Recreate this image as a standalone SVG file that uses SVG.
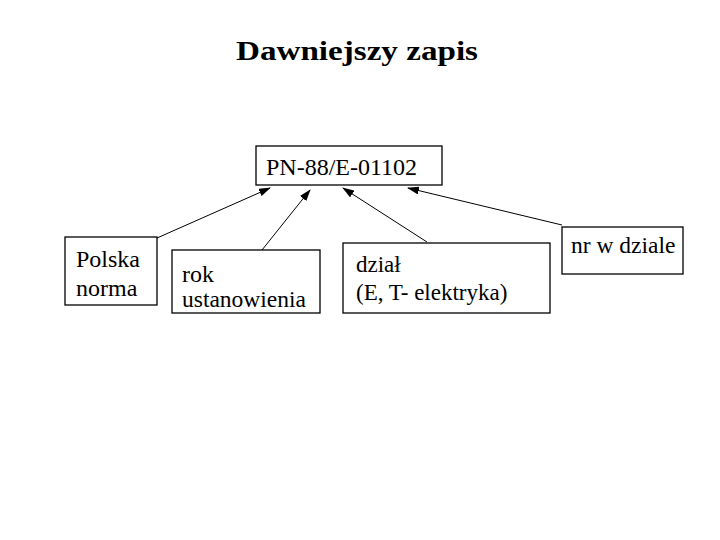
<svg xmlns="http://www.w3.org/2000/svg" width="720" height="540" viewBox="0 0 720 540">
<style>
.box{fill:#fff;stroke:#000;stroke-width:1.3}
text{font-family:'Liberation Serif','DejaVu Serif','Times New Roman',serif;fill:#000}
.c{stroke:#000;stroke-width:1;fill:none;marker-end:url(#ah)}
</style>
<defs>
<marker id="ah" markerWidth="12" markerHeight="8" refX="11" refY="4" orient="auto" markerUnits="userSpaceOnUse">
<path d="M0,0 L12,4 L0,8 Z" fill="#000"/>
</marker>
</defs>
<rect width="720" height="540" fill="#fff"/>
<text x="357" y="60" font-size="27" font-weight="bold" text-anchor="middle" textLength="242" lengthAdjust="spacingAndGlyphs">Dawniejszy  zapis</text>
<g id="connectors">
<line class="c" x1="157" y1="238" x2="270" y2="188"/>
<line class="c" x1="262" y1="250" x2="310" y2="190"/>
<line class="c" x1="427" y1="242" x2="343" y2="188"/>
<line class="c" x1="562" y1="225" x2="408" y2="188"/>
</g>
<g id="top">
<rect class="box" x="256" y="146" width="186" height="39"/>
<text x="266" y="175" font-size="24">PN-88/E-01102</text>
</g>
<g id="polska">
<rect class="box" x="65" y="237" width="92" height="68"/>
<text x="76" y="267" font-size="24">Polska</text>
<text x="76" y="296" font-size="24">norma</text>
</g>
<g id="rok">
<rect class="box" x="172" y="250" width="148" height="63"/>
<text x="182" y="282" font-size="24">rok</text>
<text x="182" y="307" font-size="23.5">ustanowienia</text>
</g>
<g id="dzial">
<rect class="box" x="343" y="243" width="207" height="70"/>
<text x="356" y="272" font-size="23">dział</text>
<text x="356" y="300" font-size="23">(E,  T- elektryka)</text>
</g>
<g id="nr">
<rect class="box" x="562" y="227" width="121" height="47"/>
<text x="571" y="253" font-size="23.5">nr w dziale</text>
</g>
</svg>
